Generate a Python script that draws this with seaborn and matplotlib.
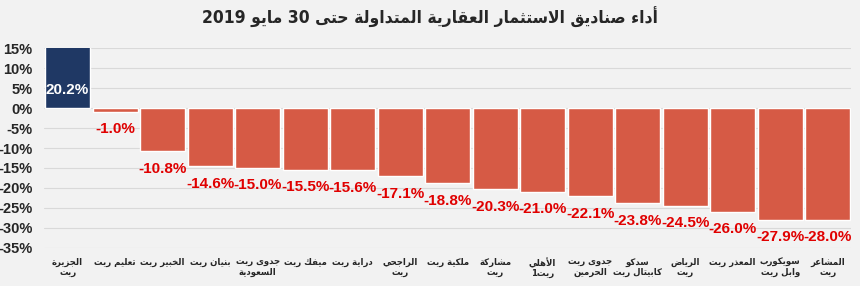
import re
import matplotlib
matplotlib.use('Agg')
import matplotlib.pyplot as plt
import seaborn as sns

# البيانات
funds = ['الجزيرة\nريت', 'تعليم ريت', 'الخبير ريت', 'بنيان ريت', 'جدوى ريت\nالسعودية',
         'ميفك ريت', 'دراية ريت', 'الراجحي\nريت', 'ملكية ريت', 'مشاركة\nريت',
         'الأهلي\nريت1', 'جدوى ريت\nالحرمين', 'سدكو\nكابيتال ريت', 'الرياض\nريت',
         'المعذر ريت', 'سويكورب\nوابل ريت', 'المشاعر\nريت']
returns = [20.2, -1.0, -10.8, -14.6, -15.0, -15.5, -15.6, -17.1, -18.8, -20.3,
           -21.0, -22.1, -23.8, -24.5, -26.0, -27.9, -28.0]
yticks = [15, 10, 5, 0, -5, -10, -15, -20, -25, -30, -35]
title = 'أداء صناديق الاستثمار العقارية المتداولة حتى 30 مايو 2019'

# matplotlib لا يشكّل الحروف العربية، لذلك نحوّلها إلى أشكال العرض يدوياً
FORMS = {
    'ء': (0xFE80, 1), 'آ': (0xFE81, 2), 'أ': (0xFE83, 2), 'ؤ': (0xFE85, 2), 'إ': (0xFE87, 2),
    'ئ': (0xFE89, 4), 'ا': (0xFE8D, 2), 'ب': (0xFE8F, 4), 'ة': (0xFE93, 2), 'ت': (0xFE95, 4),
    'ث': (0xFE99, 4), 'ج': (0xFE9D, 4), 'ح': (0xFEA1, 4), 'خ': (0xFEA5, 4), 'د': (0xFEA9, 2),
    'ذ': (0xFEAB, 2), 'ر': (0xFEAD, 2), 'ز': (0xFEAF, 2), 'س': (0xFEB1, 4), 'ش': (0xFEB5, 4),
    'ص': (0xFEB9, 4), 'ض': (0xFEBD, 4), 'ط': (0xFEC1, 4), 'ظ': (0xFEC5, 4), 'ع': (0xFEC9, 4),
    'غ': (0xFECD, 4), 'ف': (0xFED1, 4), 'ق': (0xFED5, 4), 'ك': (0xFED9, 4), 'ل': (0xFEDD, 4),
    'م': (0xFEE1, 4), 'ن': (0xFEE5, 4), 'ه': (0xFEE9, 4), 'و': (0xFEED, 2), 'ى': (0xFEEF, 2),
    'ي': (0xFEF1, 4),
}
LAM_ALEF = {'آ': 0xFEF5, 'أ': 0xFEF7, 'إ': 0xFEF9, 'ا': 0xFEFB}


def shape(text):
    out = []
    i = 0
    while i < len(text):
        c = text[i]
        if c not in FORMS:
            out.append(c)
            i += 1
            continue
        prev = text[i - 1] if i > 0 else ''
        joins_prev = prev in FORMS and FORMS[prev][1] == 4 and FORMS[c][1] > 1
        if c == 'ل' and i + 1 < len(text) and text[i + 1] in LAM_ALEF:
            out.append(chr(LAM_ALEF[text[i + 1]] + (1 if joins_prev else 0)))
            i += 2
            continue
        nxt = text[i + 1] if i + 1 < len(text) else ''
        base, n = FORMS[c]
        joins_next = n == 4 and nxt in FORMS
        if joins_prev and joins_next:
            code = base + 3
        elif joins_prev:
            code = base + 1
        elif joins_next:
            code = base + 2
        else:
            code = base
        out.append(chr(code))
        i += 1
    return ''.join(out)


def rtl(text):
    lines = []
    for line in text.split('\n'):
        runs = re.findall(r'[0-9][0-9.,%]*|[^0-9]+', shape(line))
        lines.append(''.join(r if r[0].isdigit() else r[::-1] for r in reversed(runs)))
    return '\n'.join(lines)


sns.set_style('white')
plt.rcParams['font.family'] = ['Liberation Sans', 'DejaVu Sans']
plt.rcParams['font.weight'] = 'bold'

bg = '#f2f2f2'
fig = plt.figure(figsize=(8.6, 2.86), dpi=100, facecolor=bg)
ax = fig.add_axes([0.051, 0.133, 0.939, 0.699])
ax.set_facecolor(bg)

colors = ['#1f3864' if v > 0 else '#d65a45' for v in returns]
sns.barplot(x=funds, y=returns, hue=funds, palette=colors, legend=False,
            width=0.95, saturation=1, ax=ax, zorder=2)

ax.set_ylim(-35, 15)
ax.set_xlim(-0.5, len(funds) - 0.5)
ax.set_yticks(yticks)
ax.set_yticklabels([f'{t}%' for t in yticks], fontsize=10.5, fontweight='bold')
ax.grid(axis='y', color='#d9d9d9', linewidth=0.8, zorder=0)
ax.set_axisbelow(True)
for s in ax.spines.values():
    s.set_visible(False)
ax.tick_params(axis='y', length=0, pad=8)
ax.tick_params(axis='x', length=0, pad=7)

ax.set_xticks(range(len(funds)))
ax.set_xticklabels([rtl(f) for f in funds], fontsize=6.8, fontweight='bold',
                   family=['DejaVu Sans'], fontstretch='condensed', linespacing=1.15)
ax.set_xlabel('')
ax.set_ylabel('')

for i, v in enumerate(returns):
    if v > 0:
        ax.text(i, 4.5, f'{v:.1f}%', color='white', ha='center', va='center',
                fontsize=11, fontweight='bold', zorder=3)
    else:
        ax.annotate(f'{v:.1f}%', xy=(i, v), xytext=(0, -7.5), textcoords='offset points',
                    ha='center', va='top', color='#e00000', fontsize=11, fontweight='bold')

fig.text(0.5, 0.94, rtl(title), ha='center', va='center', fontsize=12.5,
         fontweight='bold', family=['DejaVu Sans'], fontstretch='condensed')

fig.savefig('out.png', dpi=100, facecolor=bg)
